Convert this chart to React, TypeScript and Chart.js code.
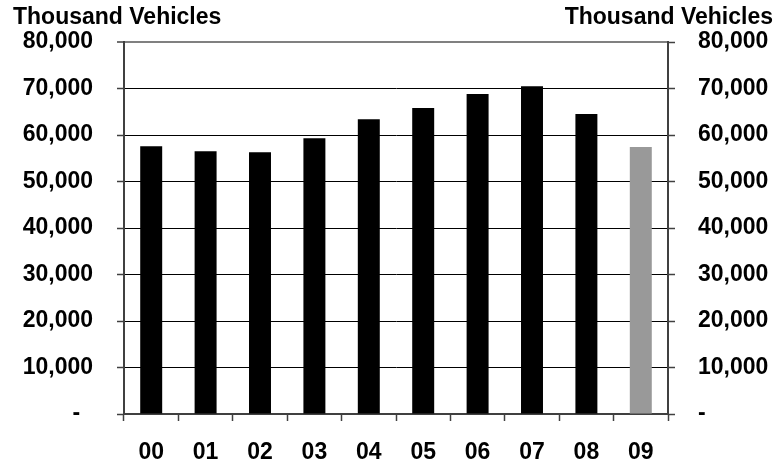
import React, { useEffect, useRef } from "react";
import { Chart, registerables } from "chart.js";

Chart.register(...registerables);

const categories = ["00", "01", "02", "03", "04", "05", "06", "07", "08", "09"];
const production = [57600, 56500, 56300, 59300, 63400, 65800, 68800, 70500, 64500, 57400];
const barColors = ["#000000", "#000000", "#000000", "#000000", "#000000", "#000000", "#000000", "#000000", "#000000", "#999999"];
const axisTitle = "Thousand Vehicles";
const yMin = 0;
const yMax = 80000;
const yStep = 10000;

const FONT_FAMILY = "'Liberation Sans', Arial, sans-serif";

const fmtLeft = (v: number) => (v === 0 ? "-  " : Number(v).toLocaleString("en-US"));
const fmtRight = (v: number) => (v === 0 ? "-" : Number(v).toLocaleString("en-US"));

const titlePlugin = {
  id: "sideTitles",
  afterDraw(chart: any) {
    const { ctx } = chart;
    ctx.save();
    ctx.font = `bold 23px ${FONT_FAMILY}`;
    ctx.fillStyle = "#000000";
    ctx.textBaseline = "alphabetic";
    ctx.textAlign = "left";
    ctx.fillText(axisTitle, 13, 24);
    ctx.textAlign = "right";
    ctx.fillText(axisTitle, 773, 24);
    ctx.restore();
  },
};

export default function App() {
  const ref = useRef<HTMLCanvasElement | null>(null);

  useEffect(() => {
    if (!ref.current) return;
    const tickFont = { family: FONT_FAMILY, size: 23, weight: "bold" as const };
    const chart = new Chart(ref.current, {
      type: "bar",
      data: {
        labels: categories,
        datasets: [
          {
            data: production,
            backgroundColor: barColors,
            borderWidth: 0,
            categoryPercentage: 1,
            barPercentage: 0.404,
          },
        ],
      },
      plugins: [titlePlugin],
      options: {
        animation: false,
        responsive: true,
        maintainAspectRatio: false,
        layout: { padding: { top: 42, left: 0, right: 0, bottom: 0 } },
        plugins: {
          legend: { display: false },
          tooltip: { enabled: false },
          title: { display: false },
        },
        scales: {
          x: {
            type: "category",
            offset: true,
            grid: {
              display: true,
              offset: true,
              drawOnChartArea: false,
              drawTicks: true,
              tickLength: 7,
              tickColor: "#404040",
              tickWidth: 1.5,
            },
            border: { display: true, color: "#404040", width: 2 },
            ticks: { font: tickFont, color: "#000000", padding: 18, maxRotation: 0, autoSkip: false },
            afterFit(scale: any) {
              scale.height = 51;
            },
          },
          y: {
            position: "left",
            min: yMin,
            max: yMax,
            ticks: {
              stepSize: yStep,
              font: tickFont,
              color: "#000000",
              padding: 24,
              callback: (v: any) => fmtLeft(Number(v)),
            },
            grid: {
              color: (c: any) => (c.tick && c.tick.value === yMax ? "#808080" : "#000000"),
              lineWidth: (c: any) => (c.tick && c.tick.value === yMax ? 2 : 1),
              drawTicks: true,
              tickLength: 7,
              tickColor: "#404040",
              tickWidth: 1.5,
            },
            border: { display: true, color: "#404040", width: 2 },
            afterFit(scale: any) {
              scale.width = 124;
            },
          },
          y2: {
            position: "right",
            min: yMin,
            max: yMax,
            ticks: {
              stepSize: yStep,
              font: tickFont,
              color: "#000000",
              padding: 23,
              callback: (v: any) => fmtRight(Number(v)),
            },
            grid: {
              drawOnChartArea: false,
              drawTicks: true,
              tickLength: 7,
              tickColor: "#404040",
              tickWidth: 1.5,
            },
            border: { display: true, color: "#404040", width: 2 },
            afterFit(scale: any) {
              scale.width = 113;
            },
          },
        },
      },
    });
    return () => chart.destroy();
  }, []);

  return (
    <div style={{ position: "fixed", left: 0, top: 0, width: 781, height: 465, background: "#ffffff" }}>
      <canvas ref={ref} />
    </div>
  );
}
